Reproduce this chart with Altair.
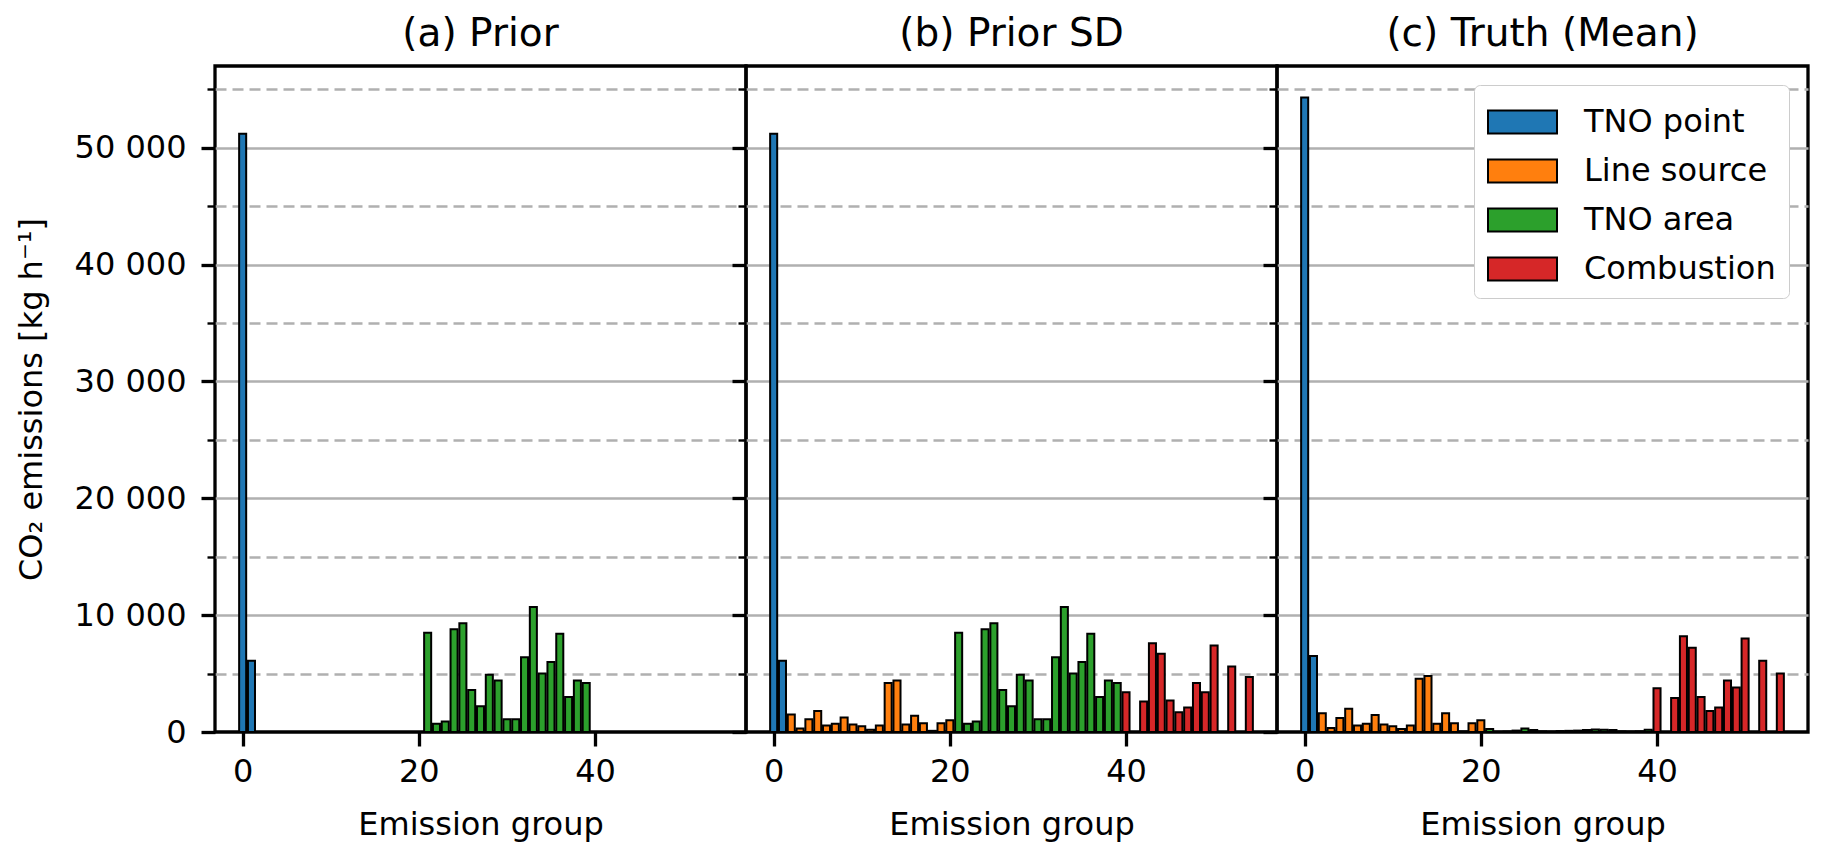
import altair as alt
import pandas as pd

categories = ["TNO point", "Line source", "TNO area", "Combustion"]
colors = ["#1f77b4", "#ff7f0e", "#2ca02c", "#d62728"]
group_counts = [2, 19, 19, 15]  # groups 0-1, 2-20, 21-39, 40-54

titles = ["(a) Prior", "(b) Prior SD", "(c) Truth (Mean)"]

prior = [
    51200, 6100,
    0, 0, 0, 0, 0, 0, 0, 0, 0, 0, 0, 0, 0, 0, 0, 0, 0, 0, 0,
    8500, 700, 900, 8800, 9300, 3600, 2200, 4900, 4400, 1100,
    1100, 6400, 10700, 5000, 6000, 8400, 3000, 4400, 4200,
    0, 0, 0, 0, 0, 0, 0, 0, 0, 0, 0, 0, 0, 0, 0,
]
prior_sd = [
    51200, 6100,
    1500, 300, 1100, 1800, 550, 700, 1250, 650, 500, 200,
    550, 4200, 4400, 650, 1400, 750, 100, 750, 1000,
    8500, 700, 900, 8800, 9300, 3600, 2200, 4900, 4400, 1100,
    1100, 6400, 10700, 5000, 6000, 8400, 3000, 4400, 4200,
    3400, 0, 2600, 7600, 6700, 2700, 1700, 2100, 4200, 3400,
    7400, 0, 5600, 0, 4700,
]
truth = [
    54300, 6500,
    1600, 350, 1200, 2000, 550, 700, 1450, 650, 500, 250,
    550, 4550, 4800, 700, 1600, 750, 50, 750, 1000,
    250, 30, 50, 120, 300, 180, 60, 40, 80, 100,
    120, 180, 220, 200, 180, 60, 40, 60, 200,
    3750, 0, 2900, 8200, 7200, 3000, 1800, 2100, 4400, 3800,
    8000, 0, 6100, 0, 5000,
]

y_ticks = [0, 5000, 10000, 15000, 20000, 25000, 30000, 35000, 40000, 45000, 50000, 55000]
x_ticks = [0, 20, 40]

group_cat = []
for cat, n in zip(categories, group_counts):
    group_cat += [cat] * n

FONT = "DejaVu Sans"
minor = "datum.value % 10000 !== 0"


def panel(title, values, first, last):
    df = pd.DataFrame({
        "group": list(range(len(values))),
        "category": group_cat,
        "value": values,
    })
    ykw = {}
    if first:
        ykw["title"] = "CO₂ emissions [kg h⁻¹]"
    else:
        ykw["labels"] = False
        ykw["title"] = ""
    yaxis = alt.Axis(
        values=y_ticks,
        labelExpr="datum.value % 10000 === 0 ? replace(format(datum.value, ','), ',', ' ') : ''",
        grid=True,
        gridColor="#b0b0b0",
        gridWidth=2.6,
        gridOpacity={"condition": {"test": "datum.value === 0", "value": 0}, "value": 1},
        gridDash={"condition": {"test": minor, "value": [11, 6]}, "value": [1, 0]},
        tickSize={"condition": {"test": minor, "value": 8}, "value": 14},
        tickWidth={"condition": {"test": minor, "value": 2.4}, "value": 3.3},
        domain=False,
        labelPadding=15,
        titlePadding=26,
        **ykw,
    )
    ckw = {"legend": None}
    if last:
        ckw["legend"] = alt.Legend(
            title=None,
            orient="top-right",
            offset=19,
            symbolType="M-1,-0.5L2,-0.5L2,0.5L-1,0.5Z",
            symbolSize=2116,
            symbolStrokeColor="black",
            symbolStrokeWidth=2,
            symbolOpacity=1,
            labelFontSize=32,
            labelFont=FONT,
            labelColor="black",
            labelLimit=400,
            labelOffset=49,
            rowPadding=9,
            padding=13,
            fillColor="white",
            strokeColor="#cccccc",
            cornerRadius=6,
        )
    return (
        alt.Chart(df)
        .transform_filter("datum.value > 0")
        .transform_calculate(x0="datum.group - 0.4", x1="datum.group + 0.4", y0="0")
        .mark_rect(stroke="black", strokeWidth=2)
        .encode(
            x=alt.X(
                "x0:Q",
                scale=alt.Scale(domain=[-3.14, 57.14], nice=False, zero=False),
                axis=alt.Axis(
                    values=x_ticks, format="d", grid=False, domain=False,
                    tickSize=14, tickWidth=3.3, labelPadding=10, titlePadding=22,
                    title="Emission group",
                ),
            ),
            x2="x1:Q",
            y=alt.Y("value:Q", scale=alt.Scale(domain=[0, 57000], nice=False), axis=yaxis),
            y2="y0:Q",
            color=alt.Color(
                "category:N",
                scale=alt.Scale(domain=categories, range=colors),
                **ckw,
            ),
        )
        .properties(
            width=531,
            height=666,
            title=alt.TitleParams(title, fontSize=39, font=FONT, fontWeight="normal", offset=12),
        )
    )


charts = [
    panel(titles[0], prior, True, False),
    panel(titles[1], prior_sd, False, False),
    panel(titles[2], truth, False, True),
]

chart = (
    alt.hconcat(*charts, spacing=0, bounds="flush")
    .resolve_scale(color="independent")
    .resolve_legend(color="independent")
    .configure(font=FONT)
    .configure_view(stroke="black", strokeWidth=3.3)
    .configure_axis(
        labelFont=FONT, titleFont=FONT, labelFontSize=32, titleFontSize=32,
        labelColor="black", titleColor="black", tickColor="black",
        titleFontWeight="normal",
    )
)

chart.save("out.html", embed_options={"renderer": "svg", "actions": False})
